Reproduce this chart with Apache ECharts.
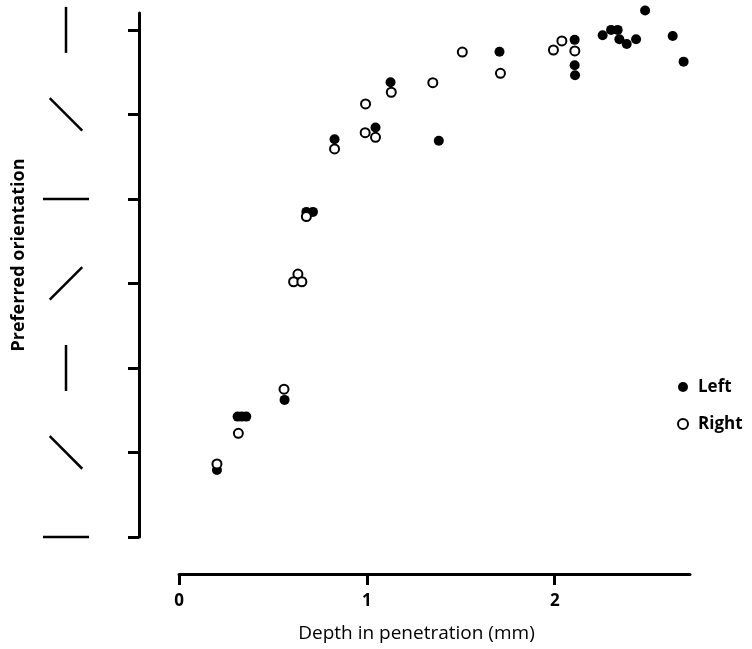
<!DOCTYPE html>
<html><head><meta charset="utf-8">
<script src="https://cdn.jsdelivr.net/npm/echarts@6/dist/echarts.min.js"></script>
<style>html,body{margin:0;padding:0;background:#fff}#c{width:752px;height:649px}</style>
</head><body><div id="c"></div>
<script>
// Depth (mm) and preferred orientation (deg)
const leftDepth = [0.202, 0.312, 0.334, 0.358, 0.562, 0.678, 0.713, 0.828, 1.046, 1.126, 1.383, 1.706, 2.106, 2.106, 2.108, 2.255, 2.300, 2.335, 2.344, 2.383, 2.433, 2.481, 2.628, 2.686];
const leftOrient = [35.7, 64.1, 64.1, 64.1, 73.0, 173.1, 173.1, 211.8, 218.0, 242.1, 211.0, 258.4, 264.7, 251.2, 245.9, 267.2, 270.0, 270.0, 265.0, 262.5, 265.0, 280.3, 266.8, 253.1];
const rightDepth = [0.202, 0.316, 0.559, 0.633, 0.610, 0.654, 0.678, 0.828, 0.993, 0.991, 1.046, 1.130, 1.351, 1.508, 1.711, 1.993, 2.038, 2.107];
const rightOrient = [38.9, 55.2, 78.7, 140.0, 135.9, 135.9, 170.6, 206.6, 230.6, 215.3, 212.8, 236.8, 241.9, 258.2, 246.9, 259.3, 264.1, 258.8];
const orientationTicks = [0, 45, 90, 135, 180, 225, 270];
const depthTicks = [0, 1, 2];
const seriesNames = ['Left', 'Right'];
const xTitle = 'Depth in penetration (mm)';
const yTitle = 'Preferred orientation';

const FONT = '"Open Sans"';
const chart = echarts.init(document.getElementById('c'), null, {renderer: 'canvas'});
const zip = (a, b) => a.map((v, i) => [v, b[i]]);

chart.setOption({
  animation: false,
  backgroundColor: '#fff',
  grid: {left: 179, right: 62, top: 13, bottom: 112, containLabel: false},
  xAxis: {
    type: 'value', min: 0, max: 2.72, offset: 37,
    splitLine: {show: false},
    axisLine: {show: true, onZero: false, lineStyle: {color: '#000', width: 3}},
    axisTick: {show: true, customValues: depthTicks, length: 11, lineStyle: {color: '#000', width: 3}},
    axisLabel: {customValues: depthTicks, margin: 19, color: '#000', fontFamily: FONT, fontWeight: 'bold', fontSize: 17},
    name: xTitle, nameLocation: 'middle', nameGap: 50,
    nameTextStyle: {color: '#000', fontFamily: FONT, fontSize: 19, padding: [0, 36, 0, 0]}
  },
  yAxis: {
    type: 'value', min: 0, max: 279, offset: 40,
    splitLine: {show: false},
    axisLine: {show: true, onZero: false, lineStyle: {color: '#000', width: 3}},
    axisTick: {show: true, customValues: orientationTicks, length: 11, lineStyle: {color: '#000', width: 3}},
    axisLabel: {show: false}
  },
  legend: {
    data: seriesNames, orient: 'vertical', left: 672, top: 372,
    itemWidth: 16, itemHeight: 10, itemGap: 17,
    textStyle: {color: '#000', fontFamily: FONT, fontWeight: 'bold', fontSize: 17, lineHeight: 20, padding: [0, 0, 0, 2]}
  },
  graphic: [{
    type: 'text', x: 19, y: 255, rotation: Math.PI / 2,
    style: {text: yTitle, fill: '#000', font: 'bold 18px "Open Sans"', textAlign: 'center', textVerticalAlign: 'middle'}
  }],
  series: [
    {
      name: 'Left', type: 'scatter', data: zip(leftDepth, leftOrient), clip: false,
      symbol: 'circle', symbolSize: 10, itemStyle: {color: '#000', opacity: 1}
    },
    {
      name: 'Right', type: 'scatter', data: zip(rightDepth, rightOrient), clip: false,
      symbol: 'circle', symbolSize: 9, itemStyle: {color: '#fff', borderColor: '#000', borderWidth: 2, opacity: 1}
    },
    {
      name: 'glyphs', type: 'custom', clip: false, silent: true,
      data: orientationTicks.map(v => [0, v]),
      renderItem: function (params, api) {
        const v = api.value(1);
        const p = api.coord([0, v]);
        const cx = p[0] - 113, cy = p[1];
        const a = v * Math.PI / 180, h = 23;
        return {
          type: 'line',
          shape: {x1: cx - h * Math.cos(a), y1: cy - h * Math.sin(a), x2: cx + h * Math.cos(a), y2: cy + h * Math.sin(a)},
          style: {stroke: '#000', lineWidth: 2.5}
        };
      }
    }
  ]
});
</script>
</body></html>
